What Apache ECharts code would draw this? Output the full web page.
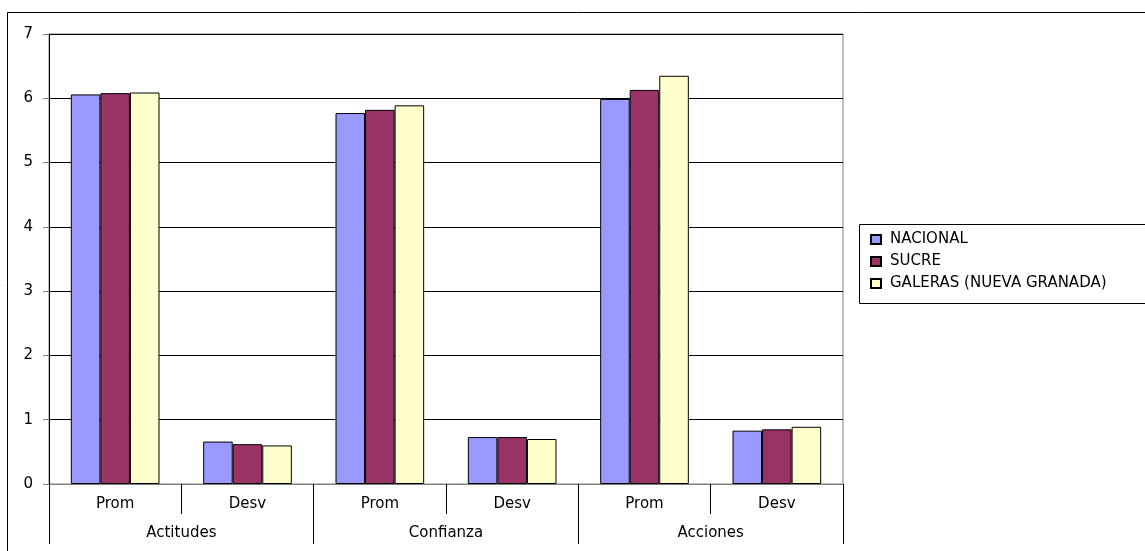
<!DOCTYPE html>
<html>
<head>
<meta charset="utf-8">
<script src="https://cdn.jsdelivr.net/npm/echarts@6/dist/echarts.min.js"></script>
<style>html,body{margin:0;padding:0;background:#fff;}#c{width:1145px;height:551px;}</style>
</head>
<body>
<div id="c"></div>
<script>
const subCategories = ['Prom', 'Desv', 'Prom', 'Desv', 'Prom', 'Desv'];
const groupCategories = ['Actitudes', 'Confianza', 'Acciones'];
const seriesNames = ['NACIONAL', 'SUCRE', 'GALERAS (NUEVA GRANADA)'];
const nacional = [6.06, 0.66, 5.77, 0.73, 5.99, 0.83];
const sucre = [6.08, 0.62, 5.82, 0.73, 6.13, 0.85];
const galeras = [6.09, 0.60, 5.89, 0.70, 6.35, 0.89];
const yTicks = [0, 1, 2, 3, 4, 5, 6, 7];
const colors = ['#9999FF', '#993366', '#FFFFCC'];

const font = 'DejaVu Sans, Liberation Sans, Arial, sans-serif';
const fs = 15;
const chart = echarts.init(document.getElementById('c'), null, {renderer: 'canvas'});
const values = [nacional, sucre, galeras];
chart.setOption({
  animation: false,
  backgroundColor: '#fff',
  textStyle: {fontFamily: font},
  grid: {left: 49, right: 302, top: 34, bottom: 67, show: true, borderColor: '#808080', borderWidth: 1},
  legend: {
    orient: 'vertical', left: 865, top: 227, itemWidth: 10, itemHeight: 9, itemGap: 7,
    icon: 'rect',
    textStyle: {fontFamily: font, fontSize: fs, color: '#000', padding: [0, 0, 0, 4]},
    data: seriesNames
  },
  xAxis: [
    {
      type: 'category', data: subCategories, position: 'bottom',
      axisLine: {show: true, lineStyle: {color: '#808080', width: 1}},
      axisTick: {show: true, length: 30, lineStyle: {color: '#000'}},
      axisLabel: {fontFamily: font, fontSize: fs, color: '#000', margin: 13}
    },
    {
      type: 'category', data: groupCategories, position: 'bottom',
      axisLine: {show: false},
      axisTick: {show: true, length: 60, lineStyle: {color: '#000'}},
      axisLabel: {fontFamily: font, fontSize: fs, color: '#000', margin: 42}
    }
  ],
  yAxis: {
    type: 'value', min: yTicks[0], max: yTicks[yTicks.length - 1], interval: 1,
    axisLine: {show: true, lineStyle: {color: '#000'}},
    axisTick: {show: true, length: 6, inside: false, lineStyle: {color: '#808080'}},
    axisLabel: {fontFamily: font, fontSize: fs, color: '#000', margin: 16},
    splitLine: {show: true, lineStyle: {color: '#000', width: 1}}
  },
  series: seriesNames.map((n, i) => ({
    name: n, type: 'bar', xAxisIndex: 0, data: values[i],
    barGap: '0%', barCategoryGap: '33%',
    itemStyle: {color: colors[i], borderColor: '#000', borderWidth: 1}
  })),
  graphic: [
    {type: 'rect', shape: {x: 7.5, y: 12.5, width: 1200, height: 600}, style: {fill: 'none', stroke: '#000', lineWidth: 1}, silent: true, z: -1},
    {type: 'rect', shape: {x: 859.5, y: 224.5, width: 400, height: 79}, style: {fill: 'none', stroke: '#000', lineWidth: 1}, silent: true}
  ]
});
</script>
</body>
</html>
